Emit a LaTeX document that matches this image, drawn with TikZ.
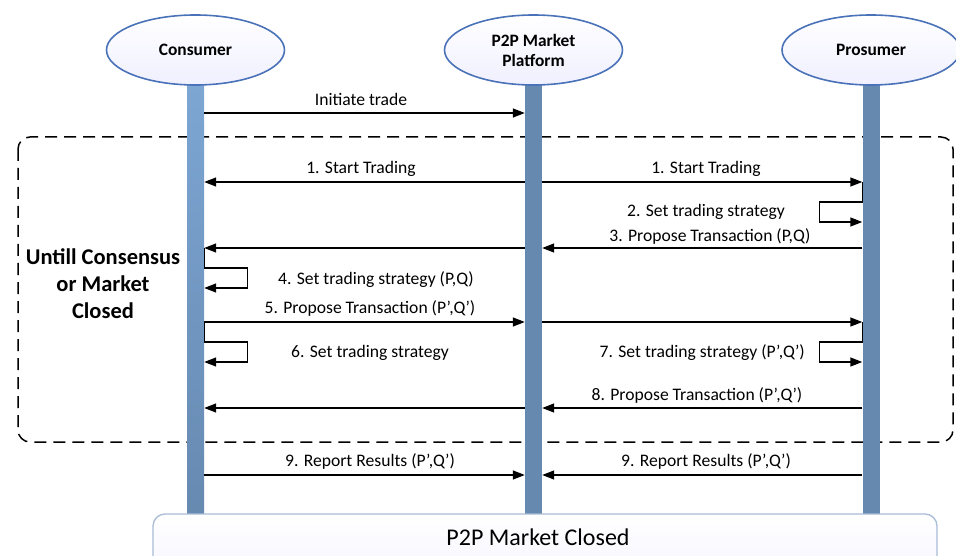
\documentclass[tikz,border=0pt]{standalone}
\usepackage{fontspec}
\setmainfont{Carlito}
\usetikzlibrary{shapes.geometric,arrows.meta}
\definecolor{lifeblue}{HTML}{6689B0}
\definecolor{lifetop}{HTML}{7DA6D3}
\definecolor{ellborder}{HTML}{4A72B8}
\definecolor{boxborder}{HTML}{A9BCD6}
\tikzset{
  actor/.style={ellipse, draw=ellborder, line width=1.6pt, minimum width=178pt, minimum height=70pt,
    top color=white, bottom color=blue!6!white, align=center, font=\fontsize{17.4}{20}\selectfont\bfseries, inner sep=0pt},
  lifeline/.style={rectangle, draw=none, fill=lifeblue, minimum width=17pt, minimum height=435pt, inner sep=0pt, anchor=north},
  msg/.style={line width=1.4pt, -{Triangle[length=12pt,width=9pt]}},
  selfmsg/.style={line width=1.4pt, -{Triangle[length=12pt,width=9pt]}},
  lbl/.style={font=\fontsize{17.6}{20}\selectfont, inner sep=0pt},
}
\begin{document}
\begin{tikzpicture}[x=1pt,y=-1pt]
\useasboundingbox (0,0) rectangle (956,556);
\clip (0,0) rectangle (956,556);

% loop frame
\draw[line width=1.5pt, dash pattern=on 12pt off 7pt, rounded corners=12pt] (18,137) rectangle (953,442);
\node[font=\fontsize{22.5}{27}\selectfont\bfseries, align=center] (loop) at (103,284) {Untill Consensus\\or Market\\Closed};

% lifelines
\node[lifeline, fill=none, top color=lifetop, bottom color=lifeblue] (cl) at (195.5,85) {};
\node[lifeline] (pl) at (533.5,85) {};
\node[lifeline] (rl) at (871,85) {};

% actors
\node[actor] (cons) at (195.5,50) {Consumer};
\node[actor] (plat) at (533.5,50) {P2P Market\\Platform};
\node[actor] (pros) at (871,50) {Prosumer};

% message rows
\coordinate (r0) at (0,113);
\coordinate (r1) at (0,182);
\coordinate (r2) at (0,222);
\coordinate (r3) at (0,248);
\coordinate (r4) at (0,288);
\coordinate (r5) at (0,322);
\coordinate (r6) at (0,362);
\coordinate (r8) at (0,408);
\coordinate (r9) at (0,475);

% initiate
\draw[msg] (cl.east |- r0) -- (pl.west |- r0);
\node[lbl] (t0) at (361,99) {Initiate trade};

% 1. start trading
\draw[msg] (pl.west |- r1) -- (cl.east |- r1);
\draw[msg] (pl.east |- r1) -- (rl.west |- r1);
\node[lbl] (t1a) at (361,169) {1. Start Trading};
\node[lbl] (t1b) at (706,169) {1. Start Trading};

% 2. prosumer self message
\draw[selfmsg] (rl.west |- r1) -- ++(0,20) -- ++(-43,0) -- ++(0,20) -- (rl.west |- r2);
\node[lbl] (t2) at (706,212) {2. Set trading strategy};

% 3. propose transaction
\draw[msg] (rl.west |- r3) -- (pl.east |- r3);
\draw[msg] (pl.west |- r3) -- (cl.east |- r3);
\node[lbl] (t3) at (710,236) {3. Propose Transaction (P,Q)};

% 4. consumer self message
\draw[selfmsg] (cl.east |- r3) -- ++(0,20) -- ++(43,0) -- ++(0,20) -- (cl.east |- r4);
\node[lbl, anchor=west] (t4) at (278,280) {4. Set trading strategy (P,Q)};

% 5. propose transaction
\draw[msg] (cl.east |- r5) -- (pl.west |- r5);
\draw[msg] (pl.east |- r5) -- (rl.west |- r5);
\node[lbl] (t5) at (370,308) {5. Propose Transaction (P’,Q’)};

% 6. consumer self message
\draw[selfmsg] (cl.east |- r5) -- ++(0,20) -- ++(43,0) -- ++(0,20) -- (cl.east |- r6);
\node[lbl] (t6) at (370,353) {6. Set trading strategy};

% 7. prosumer self message
\draw[selfmsg] (rl.west |- r5) -- ++(0,20) -- ++(-43,0) -- ++(0,20) -- (rl.west |- r6);
\node[lbl, anchor=east] (t7) at (805,353) {7. Set trading strategy (P’,Q’)};

% 8. propose transaction
\draw[msg] (rl.west |- r8) -- (pl.east |- r8);
\draw[msg] (pl.west |- r8) -- (cl.east |- r8);
\node[lbl] (t8) at (697,395) {8. Propose Transaction (P’,Q’)};

% 9. report results
\draw[msg] (cl.east |- r9) -- (pl.west |- r9);
\draw[msg] (rl.west |- r9) -- (pl.east |- r9);
\node[lbl] (t9a) at (370,461) {9. Report Results (P’,Q’)};
\node[lbl] (t9b) at (706,461) {9. Report Results (P’,Q’)};

% closing bar
\draw[draw=boxborder, line width=1.3pt, rounded corners=12pt, top color=white, bottom color=blue!4!white] (153,514) rectangle (937,580);
\node[font=\fontsize{24}{28}\selectfont] (closed) at (538,537) {P2P Market Closed};
\end{tikzpicture}
\end{document}
